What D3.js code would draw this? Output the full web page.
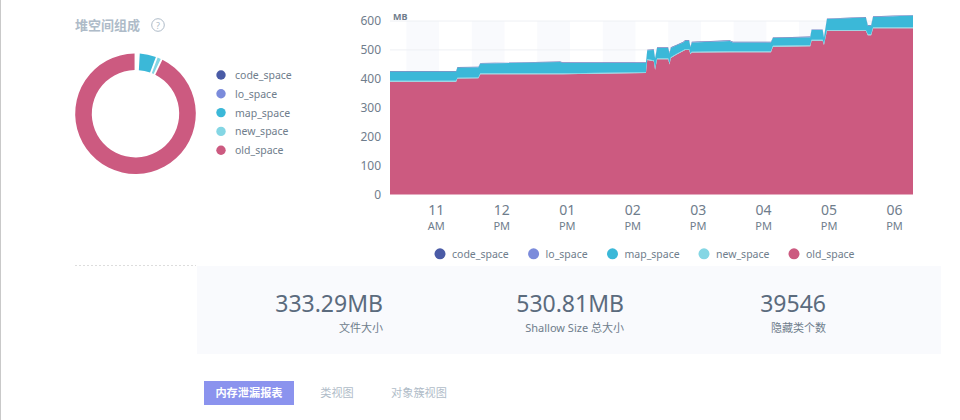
<!DOCTYPE html>
<html><head><meta charset="utf-8">
<script src="https://cdnjs.cloudflare.com/ajax/libs/d3/7.8.5/d3.min.js"></script>
<style>
html,body{margin:0;padding:0;background:#fff;overflow:hidden}
svg{display:block}
text{font-family:"Noto Sans","Noto Sans CJK SC",sans-serif}
</style></head><body>
<svg id="c" width="960" height="420"></svg>
<script>
const seriesNames = ["code_space","lo_space","map_space","new_space","old_space"];
const seriesColors = ["#4a5ba6","#7b8bdb","#3bb8d8","#84d6e4","#cc5a80"];
const hours = [10.30,11.31,11.33,11.65,11.68,12.90,12.94,14.21,14.23,14.33,14.35,14.38,14.55,14.57,14.59,14.68,14.78,14.81,14.87,14.89,14.91,15.49,15.54,16.12,16.15,16.72,16.74,16.91,16.93,16.975,17.57,17.60,17.65,17.68,18.29];
const old_space = [390,390,401,402,416,416,416,420,465,461,431,468,468,450,472,484,496,500,500,485,491,492,492,492,511,513,532,532,517,566,566,551,551,575,575];
const new_space = [3,3,3,3,3,3,3,3,3,3,3,3,3,3,3,3,3,3,3,3,3,3,3,3,3,3,3,3,3,3,3,3,3,3,3];
const map_space = [32,32,35,35,34,39,36,32,31,36,36,36,36,35,32,29,27,29,29,21,32,36,31,31,27,28,34,34,23,38,43,30,30,36,41];
const lo_space = [0.5,0.5,0.5,0.5,0.5,0.5,0.5,0.5,0.5,0.5,0.5,0.5,0.5,0.5,0.5,0.5,0.5,0.5,0.5,0.5,0.5,0.5,0.5,0.5,0.5,0.5,0.5,0.5,0.5,0.5,0.5,0.5,0.5,0.5,0.5];
const code_space = [1.5,1.5,1.5,1.5,1.5,1.5,1.5,1.5,1.5,1.5,1.5,1.5,1.5,1.5,1.5,1.5,1.5,1.5,1.5,1.5,1.5,1.5,1.5,1.5,1.5,1.5,1.5,1.5,1.5,1.5,1.5,1.5,1.5,1.5,1.5];
const donutValues = [0.5,0,27,6,560];
const tickHours = [11,12,13,14,15,16,17,18];
const tickTop = ["11","12","01","02","03","04","05","06"];
const tickBottom = ["AM","PM","PM","PM","PM","PM","PM","PM"];
const bandStarts = [10.55,11.55,12.55,13.55,14.55,15.55,16.55,17.55];
const yTicks = [0,100,200,300,400,500,600];
const statValues = ["333.29MB","530.81MB","39546"];
const statLabels = ["文件大小","Shallow Size 总大小","隐藏类个数"];
const tabLabels = ["内存泄漏报表","类视图","对象簇视图"];

const svg = d3.select("#c");
const color = d3.scaleOrdinal(seriesNames, seriesColors);
const textCol = "#6f7d8c";

svg.append("rect").attr("x",0).attr("y",0).attr("width",1).attr("height",420).attr("fill","#c9c9c9");
svg.append("text").attr("x",75).attr("y",30).attr("font-size",13).attr("font-weight",700).attr("fill","#aebbc8").text("堆空间组成");
svg.append("circle").attr("cx",158).attr("cy",25).attr("r",6.3).attr("fill","none").attr("stroke","#aebbc8");
svg.append("text").attr("x",158).attr("y",28.5).attr("text-anchor","middle").attr("font-size",9).attr("fill","#aebbc8").text("?");

// donut
const pie = d3.pie().sort(null).padAngle(0.025);
const arc = d3.arc().innerRadius(43.7).outerRadius(60.3);
svg.append("g").attr("transform","translate(135.5,113.7)")
  .selectAll("path").data(pie(donutValues)).join("path")
  .attr("d",arc).attr("fill",(d,i)=>seriesColors[i]);
const dl = svg.append("g").selectAll("g").data(seriesNames).join("g")
  .attr("transform",(d,i)=>`translate(221,${75+i*18.8})`);
dl.append("circle").attr("r",4.7).attr("fill",d=>color(d));
dl.append("text").attr("x",14).attr("y",4).attr("font-size",10.5).attr("fill",textCol).text(d=>d);

// stacked area
const x = d3.scaleLinear().domain([10.30,18.29]).range([390,913]);
const y = d3.scaleLinear().domain([0,600]).range([194.5,21]);
const rows = hours.map((h,i)=>({h,code_space:code_space[i],lo_space:lo_space[i],map_space:map_space[i],new_space:new_space[i],old_space:old_space[i]}));

svg.append("g").selectAll("rect").data(bandStarts).join("rect")
  .attr("x",d=>x(d)).attr("width",d=>x(d+0.5)-x(d)).attr("y",y(600)).attr("height",y(0)-y(600)).attr("fill","#f9fafd");

const yAxis = d3.axisLeft(y).tickValues(yTicks).tickSize(0).tickPadding(0);
const yg = svg.append("g").attr("transform","translate(381,0)").call(yAxis);
yg.select(".domain").remove();
yg.selectAll("text").attr("font-size",12).attr("fill",textCol).style("font-family",'"Noto Sans",sans-serif');
svg.append("g").selectAll("line").data(yTicks.filter(d=>d>0)).join("line")
  .attr("x1",390).attr("x2",913).attr("y1",d=>y(d)).attr("y2",d=>y(d)).attr("stroke","#eef0f4");
svg.append("text").attr("x",393).attr("y",20).attr("font-size",9).attr("font-weight",700).attr("fill","#6f7d8c").text("MB");

const stack = d3.stack().keys(["old_space","new_space","map_space","lo_space","code_space"]);
const area = d3.area().x(d=>x(d.data.h)).y0(d=>y(d[0])).y1(d=>y(d[1]));
svg.append("g").selectAll("path").data(stack(rows)).join("path")
  .attr("d",area).attr("fill",d=>color(d.key));

const xAxis = d3.axisBottom(x).tickValues(tickHours).tickSize(0).tickFormat("");
const xg = svg.append("g").attr("transform","translate(0,194)").call(xAxis);
xg.select(".domain").remove();
xg.selectAll(".tick text").remove();
xg.selectAll(".tick").each(function(d,i){
  const g = d3.select(this);
  g.append("text").attr("y",21).attr("text-anchor","middle").attr("font-size",14).attr("fill",textCol).text(tickTop[i]);
  g.append("text").attr("y",36).attr("text-anchor","middle").attr("font-size",11).attr("fill",textCol).text(tickBottom[i]);
});

const legX = [440,533.6,612.5,704,794];
const bl = svg.append("g").selectAll("g").data(seriesNames).join("g")
  .attr("transform",(d,i)=>`translate(${legX[i]},253.8)`);
bl.append("circle").attr("r",5.5).attr("fill",d=>color(d));
bl.append("text").attr("x",12).attr("y",4).attr("font-size",10.5).attr("fill",textCol).text(d=>d);

// summary
svg.append("line").attr("x1",75).attr("x2",196).attr("y1",265.5).attr("y2",265.5).attr("stroke","#ddd").attr("stroke-dasharray","2 2");
svg.append("rect").attr("x",197).attr("y",266).attr("width",744).attr("height",88).attr("fill","#f9fafd");
const statX = [383,624,826];
statValues.forEach((s,i)=>{
  svg.append("text").attr("x",statX[i]).attr("y",312).attr("text-anchor","end").attr("font-size",23).attr("fill","#5b6b7d").text(s);
  svg.append("text").attr("x",statX[i]).attr("y",332).attr("text-anchor","end").attr("font-size",11).attr("fill",textCol).text(statLabels[i]);
});
svg.append("rect").attr("x",204).attr("y",381).attr("width",90).attr("height",24).attr("fill","#8b93ee");
const tabX = [249,337,419];
const tabFill = ["#fff","#b0bcc8","#b0bcc8"];
tabLabels.forEach((t,i)=>{
  svg.append("text").attr("x",tabX[i]).attr("y",397).attr("text-anchor","middle").attr("font-size",11.2).attr("font-weight",i?400:700).attr("fill",tabFill[i]).text(t);
});
</script>
</body></html>
